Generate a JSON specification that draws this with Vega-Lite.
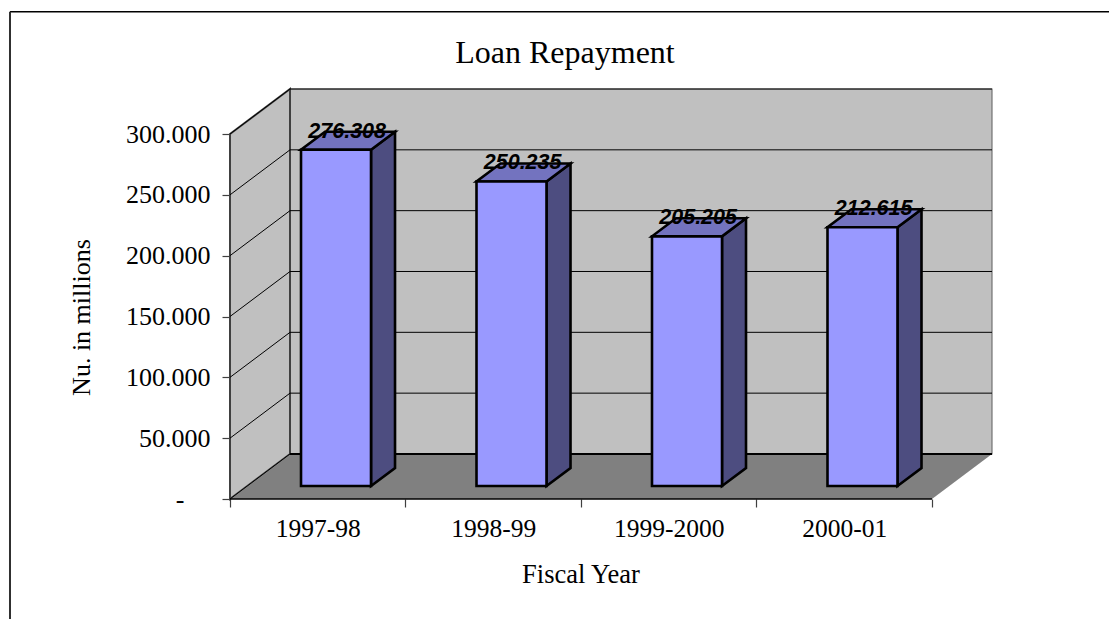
{
"$schema":"https://vega.github.io/schema/vega-lite/v6.json",
"width":762,"height":410,
"autosize":"none",
"padding":{"left":230,"top":89,"right":117,"bottom":120},
"background":"white",
"title":{"text":"Loan Repayment","anchor":"middle","frame":"group","dx":-46,"offset":-59,"font":"Liberation Serif","fontSize":32,"fontWeight":"normal","color":"black"},
"config":{"view":{"stroke":null}},
"datasets":{
"bars":[{"year":"1997-98","value":276.308},{"year":"1998-99","value":250.235},{"year":"1999-2000","value":205.205},{"year":"2000-01","value":212.615}],
"grid":[{"level":0},{"level":50},{"level":100},{"level":150},{"level":200},{"level":250},{"level":300}],
"leftwall":[{"px":0,"low":0,"high":300},{"px":0.3419,"low":37,"high":337}],
"floor":[{"px":0,"low":0,"high":0},{"px":0.3419,"low":0,"high":37},{"px":4,"low":0,"high":37},{"px":4.3419,"low":37,"high":37}],
"backwall":[{"px":0.3419,"low":37,"high":337},{"px":4.3419,"low":37,"high":337}],
"frame":[{"x1":-1.2536,"x2":6.0,"y1":400.5,"y2":-98.6}]
},
"encoding":{
"x":{"type":"quantitative","scale":{"domain":[0,4.342],"nice":false,"zero":false}},
"y":{"type":"quantitative","scale":{"domain":[0,337],"nice":false,"zero":false}}
},
"layer":[
{"data":{"name":"backwall"},"mark":{"type":"area","orient":"vertical","fill":"#c0c0c0","stroke":"#707070","strokeWidth":1.2},
 "encoding":{"x":{"field":"px","type":"quantitative","scale":{"domain":[0,4.342],"nice":false,"zero":false},
   "axis":{"values":[0,0.5,1,1.5,2,2.5,3,3.5,4],"labelExpr":"datum.value==0.5?'1997-98':datum.value==1.5?'1998-99':datum.value==2.5?'1999-2000':datum.value==3.5?'2000-01':''","grid":false,"domain":false,"tickSize":8,"tickColor":"#404040","tickWidth":1.2,"tickOpacity":{"condition":{"test":"datum.value%1==0","value":1},"value":0},"labelFont":"Liberation Serif","labelFontSize":25.5,"labelColor":"black","labelPadding":9,"labelOverlap":false,"labelBound":false,"labelFlush":false,"title":"Fiscal Year","titleFont":"Liberation Serif","titleFontSize":26.5,"titleFontWeight":"normal","titleColor":"black","titleX":350.5,"titleY":62,"titleAnchor":"middle"}},
  "y":{"field":"low","type":"quantitative","scale":{"domain":[0,337],"nice":false,"zero":false},
   "axis":{"values":[0,50,100,150,200,250,300],"labelExpr":"datum.value==0?'-\u00a0\u00a0\u00a0\u00a0\u200b':format(datum.value,'.3f')","grid":false,"domain":false,"tickSize":8,"tickColor":"#404040","tickWidth":1.2,"labelFont":"Liberation Serif","labelFontSize":26,"labelColor":"black","labelPadding":12,"labelOverlap":false,"labelBound":false,"title":"Nu. in millions","titleFont":"Liberation Serif","titleFontSize":26,"titleFontWeight":"normal","titleColor":"black","titleX":-136,"titleY":228,"titleAnchor":"middle"}},
  "y2":{"field":"high"}}},
{"data":{"name":"leftwall"},"mark":{"type":"area","orient":"vertical","fill":"#c0c0c0","stroke":"#404040","strokeWidth":2},
 "encoding":{"x":{"field":"px","type":"quantitative"},"y":{"field":"low","type":"quantitative"},"y2":{"field":"high"}}},
{"data":{"name":"floor"},"mark":{"type":"area","orient":"vertical","fill":"#808080"},
 "encoding":{"x":{"field":"px","type":"quantitative"},"y":{"field":"low","type":"quantitative"},"y2":{"field":"high"}}},
{"data":{"name":"grid"},
 "transform":[{"calculate":"[0,0.3419,4.3419]","as":"px"},{"flatten":["px"]},{"calculate":"datum.px==0?datum.level:datum.level+37","as":"gy"}],
 "mark":{"type":"line","color":"black","strokeWidth":1},
 "encoding":{"x":{"field":"px","type":"quantitative"},"y":{"field":"gy","type":"quantitative"},"detail":{"field":"level"}}},
{"data":{"name":"grid"},"transform":[{"filter":"datum.level==0"},{"calculate":"[0,4]","as":"px"},{"flatten":["px"]}],
 "mark":{"type":"line","color":"black","strokeWidth":1.5},
 "encoding":{"x":{"field":"px","type":"quantitative"},"y":{"field":"level","type":"quantitative"}}},
{"data":{"name":"grid"},"transform":[{"filter":"datum.level==0"},{"calculate":"[0.3419,4.3419]","as":"px"},{"flatten":["px"]},{"calculate":"datum.level+37","as":"gy"}],
 "mark":{"type":"line","color":"black","strokeWidth":2},
 "encoding":{"x":{"field":"px","type":"quantitative"},"y":{"field":"gy","type":"quantitative"}}},
{"data":{"name":"bars"},
 "transform":[{"window":[{"op":"row_number","as":"n"}]},{"calculate":"datum.n-1+0.4046","as":"left"},{"calculate":"datum.left+0.3989","as":"right"},{"calculate":"[0,1]","as":"t"},{"flatten":["t"]},{"calculate":"datum.right+datum.t*0.1368","as":"sx"},{"calculate":"10.7+datum.t*14.8","as":"slow"},{"calculate":"datum.slow+datum.value","as":"shigh"}],
 "mark":{"type":"area","orient":"vertical","fill":"#4d4d80","stroke":"black","strokeWidth":2.6,"strokeJoin":"miter"},
 "encoding":{"x":{"field":"sx","type":"quantitative"},"y":{"field":"slow","type":"quantitative"},"y2":{"field":"shigh"},"detail":{"field":"year"}}},
{"data":{"name":"bars"},
 "transform":[{"window":[{"op":"row_number","as":"n"}]},{"calculate":"datum.n-1+0.4046","as":"left"},{"calculate":"datum.left+0.3989","as":"right"},{"calculate":"datum.value+10.7","as":"top"},{"calculate":"[0,1,2,3]","as":"t"},{"flatten":["t"]},{"calculate":"datum.t==0?datum.left:datum.t==1?datum.left+0.1368:datum.t==2?datum.right:datum.right+0.1368","as":"tx"},{"calculate":"datum.t==3?datum.top+14.8:datum.top","as":"tlow"},{"calculate":"datum.t==0?datum.top:datum.top+14.8","as":"thigh"}],
 "mark":{"type":"area","orient":"vertical","fill":"#7373bf","stroke":"black","strokeWidth":2.6,"strokeJoin":"miter"},
 "encoding":{"x":{"field":"tx","type":"quantitative"},"y":{"field":"tlow","type":"quantitative"},"y2":{"field":"thigh"},"detail":{"field":"year"}}},
{"data":{"name":"bars"},
 "transform":[{"window":[{"op":"row_number","as":"n"}]},{"calculate":"datum.n-1+0.4046","as":"left"},{"calculate":"datum.left+0.3989","as":"right"},{"calculate":"10.7","as":"base"},{"calculate":"datum.value+10.7","as":"top"}],
 "mark":{"type":"rect","fill":"#9999ff","stroke":"black","strokeWidth":2.6},
 "encoding":{"x":{"field":"left","type":"quantitative"},"x2":{"field":"right"},"y":{"field":"base","type":"quantitative"},"y2":{"field":"top"}}},
{"data":{"name":"bars"},
 "transform":[{"window":[{"op":"row_number","as":"n"}]},{"calculate":"datum.n-1+0.4046+0.1995+0.0684-0.005","as":"cx"},{"calculate":"datum.value+10.7+10","as":"ty"}],
 "mark":{"type":"text","font":"Liberation Sans","fontSize":21.5,"fontWeight":"bold","fontStyle":"italic","align":"center","baseline":"alphabetic","color":"black"},
 "encoding":{"x":{"field":"cx","type":"quantitative"},"y":{"field":"ty","type":"quantitative"},"text":{"field":"value","type":"quantitative","format":".3f"}}},
{"data":{"name":"frame"},"mark":{"type":"rule","color":"black","strokeWidth":1.6},
 "encoding":{"x":{"field":"x1","type":"quantitative"},"x2":{"field":"x2"},"y":{"field":"y1","type":"quantitative"}}},
{"data":{"name":"frame"},"mark":{"type":"rule","color":"#303030","strokeWidth":2},
 "encoding":{"x":{"field":"x1","type":"quantitative"},"y":{"field":"y1","type":"quantitative"},"y2":{"field":"y2"}}}
]
}
